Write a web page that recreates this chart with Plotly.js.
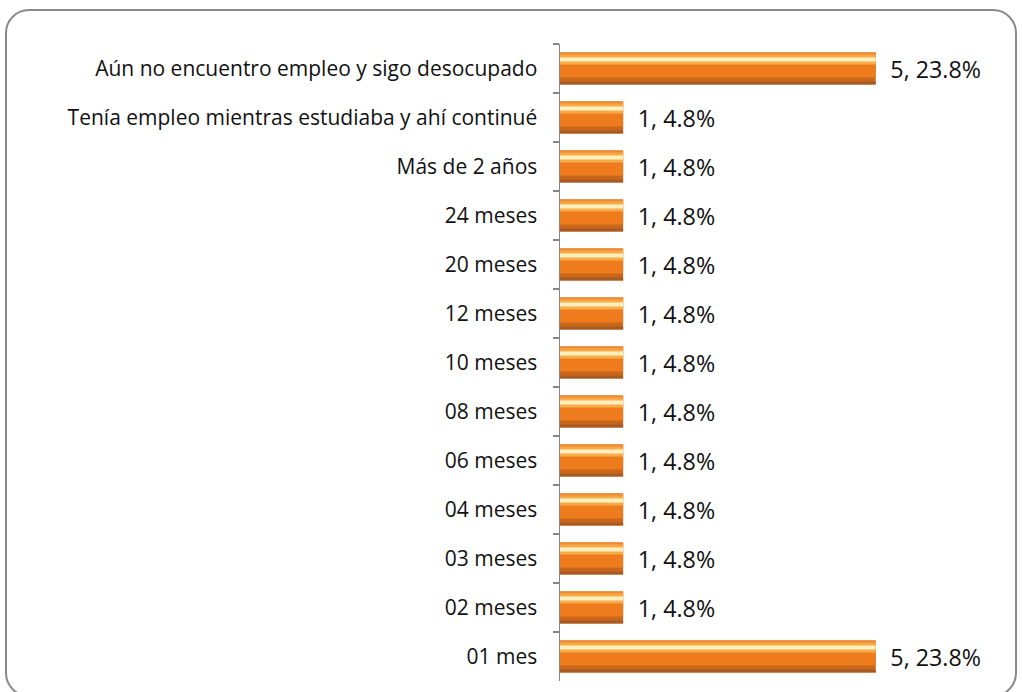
<!DOCTYPE html>
<html>
<head>
<meta charset="utf-8">
<script src="https://cdn.plot.ly/plotly-3.0.1.min.js"></script>
<style>
  html, body { margin: 0; padding: 0; background: #fff; }
  #wrap { position: relative; width: 1022px; height: 692px; overflow: hidden; }
  #chart { position: absolute; left: 0; top: 0; width: 1022px; height: 692px; }
  #frame { position: absolute; left: 5px; top: 9px; width: 1012px; height: 688px;
           border: 2px solid #8a8a8a; border-radius: 24px; box-sizing: border-box; pointer-events: none; }
</style>
</head>
<body>
<div id="wrap">
  <div id="chart"></div>
  <div id="frame"></div>
</div>
<script>
const categories = [
  "Aún no encuentro empleo y sigo desocupado",
  "Tenía empleo mientras estudiaba y ahí continué",
  "Más de 2 años",
  "24 meses",
  "20 meses",
  "12 meses",
  "10 meses",
  "08 meses",
  "06 meses",
  "04 meses",
  "03 meses",
  "02 meses",
  "01 mes"
];
const counts = [5, 1, 1, 1, 1, 1, 1, 1, 1, 1, 1, 1, 5];
const percents = [23.8, 4.8, 4.8, 4.8, 4.8, 4.8, 4.8, 4.8, 4.8, 4.8, 4.8, 4.8, 23.8];
const labels = counts.map((c, i) => c + ", " + percents[i].toFixed(1) + "%");

const FONT = "'Open Sans', Lato, sans-serif";
const px = 1 / 49;          // one pixel in category units
const barTop = -16 * px;    // bar spans 32 px

function layer(y0, h, color, extra) {
  return Object.assign({
    type: "bar",
    orientation: "h",
    x: counts,
    y: categories,
    offset: barTop + y0 * px,
    width: h * px,
    marker: { color: color, line: { width: 0 } },
    hoverinfo: "skip",
    showlegend: false
  }, extra || {});
}

const traces = [
  layer(0, 32, "#c9661a", {
    text: labels,
    textposition: "outside",
    texttemplate: "\u2002%{text}",
    textfont: { family: FONT, size: 24, color: "#111" },
    cliponaxis: false,
    hoverinfo: "x+y"
  }),
  layer(0, 25, "#ef7c1c"),
  layer(1, 3, "#f59a3a"),
  layer(3, 9, "#f8ab4a"),
  layer(5, 4, "#fff0bd"),
  layer(29, 3, "#a85a24")
];

const layout = {
  width: 1022,
  height: 692,
  paper_bgcolor: "rgba(0,0,0,0)",
  plot_bgcolor: "rgba(0,0,0,0)",
  margin: { l: 560, r: 20, t: 44, b: 11 },
  barmode: "overlay",
  showlegend: false,
  xaxis: {
    range: [0, 7],
    visible: false,
    fixedrange: true
  },
  yaxis: {
    type: "category",
    autorange: "reversed",
    showline: true,
    linecolor: "#868686",
    linewidth: 1.5,
    ticks: "outside",
    tickson: "boundaries",
    ticklen: 6,
    tickcolor: "#868686",
    tickwidth: 1.5,
    showgrid: false,
    ticklabelstandoff: 17,
    tickfont: { family: FONT, size: 21, color: "#111" },
    fixedrange: true
  },
  font: { family: FONT }
};

Plotly.newPlot("chart", traces, layout, { displayModeBar: false, staticPlot: true });
</script>
</body>
</html>
